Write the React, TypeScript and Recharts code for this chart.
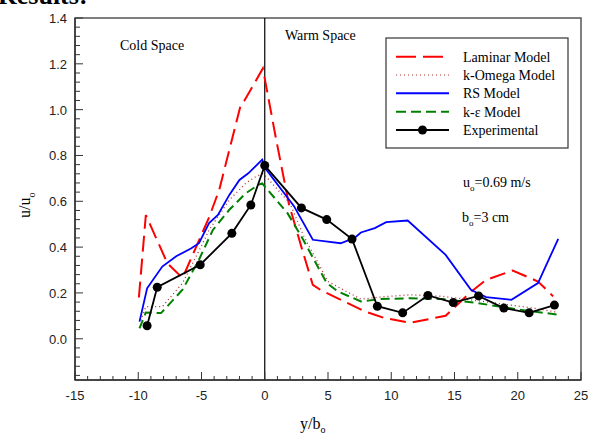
import { LineChart, Line, XAxis, YAxis, ReferenceLine, ReferenceArea } from "recharts";

const SERIF = "'Liberation Serif', 'Times New Roman', serif";
const SANS = "'Liberation Sans', Arial, sans-serif";

// u/u_o profiles vs y/b_o
const laminar = [
  { x: -9.95, y: 0.18 }, { x: -9.4, y: 0.54 }, { x: -7.7, y: 0.33 }, { x: -6.5, y: 0.265 },
  { x: -4.4, y: 0.53 }, { x: -3.6, y: 0.65 }, { x: -1.9, y: 1.02 }, { x: -1.6, y: 1.04 },
  { x: -0.15, y: 1.18 }, { x: 0.9, y: 0.87 }, { x: 1.9, y: 0.59 }, { x: 2.9, y: 0.4 },
  { x: 3.8, y: 0.235 }, { x: 4.5, y: 0.21 }, { x: 7.9, y: 0.12 }, { x: 9.5, y: 0.09 },
  { x: 11.5, y: 0.07 }, { x: 14.3, y: 0.1 }, { x: 16.2, y: 0.2 }, { x: 17.5, y: 0.257 },
  { x: 19.6, y: 0.298 }, { x: 21.6, y: 0.25 }, { x: 22.8, y: 0.185 },
];

const kOmega = [
  { x: -9.8, y: 0.08 }, { x: -9.4, y: 0.14 }, { x: -8.1, y: 0.14 }, { x: -6.5, y: 0.243 },
  { x: -4.9, y: 0.417 }, { x: -4.4, y: 0.475 }, { x: -2.8, y: 0.606 }, { x: -1.5, y: 0.679 },
  { x: -0.7, y: 0.708 }, { x: -0.15, y: 0.72 }, { x: 0.1, y: 0.708 }, { x: 2.0, y: 0.59 },
  { x: 3.1, y: 0.446 }, { x: 5.0, y: 0.25 }, { x: 6.2, y: 0.214 }, { x: 7.6, y: 0.173 },
  { x: 9.1, y: 0.182 }, { x: 11.5, y: 0.192 }, { x: 14.1, y: 0.185 }, { x: 16.7, y: 0.167 },
  { x: 19.3, y: 0.148 }, { x: 21.2, y: 0.134 }, { x: 23.2, y: 0.115 },
];

const rsModel = [
  { x: -9.9, y: 0.075 }, { x: -9.3, y: 0.22 }, { x: -8.1, y: 0.315 }, { x: -7.0, y: 0.36 },
  { x: -5.8, y: 0.395 }, { x: -5.2, y: 0.417 }, { x: -4.4, y: 0.505 }, { x: -3.7, y: 0.54 },
  { x: -2.8, y: 0.628 }, { x: -2.0, y: 0.693 }, { x: -1.3, y: 0.722 }, { x: -0.2, y: 0.782 },
  { x: 0.1, y: 0.74 }, { x: 2.3, y: 0.58 }, { x: 3.8, y: 0.432 }, { x: 6.0, y: 0.417 },
  { x: 7.1, y: 0.44 }, { x: 7.6, y: 0.464 }, { x: 8.7, y: 0.483 }, { x: 9.6, y: 0.509 },
  { x: 11.3, y: 0.516 }, { x: 14.3, y: 0.366 }, { x: 16.3, y: 0.214 }, { x: 16.8, y: 0.2 },
  { x: 17.5, y: 0.182 }, { x: 19.5, y: 0.17 }, { x: 21.6, y: 0.243 }, { x: 23.2, y: 0.436 },
];

const kEpsilon = [
  { x: -9.9, y: 0.045 }, { x: -9.4, y: 0.115 }, { x: -8.2, y: 0.112 }, { x: -6.5, y: 0.214 },
  { x: -5.2, y: 0.345 }, { x: -4.1, y: 0.475 }, { x: -2.8, y: 0.563 }, { x: -1.5, y: 0.635 },
  { x: -0.5, y: 0.672 }, { x: -0.2, y: 0.678 }, { x: 1.8, y: 0.548 }, { x: 2.9, y: 0.446 },
  { x: 4.9, y: 0.243 }, { x: 5.8, y: 0.206 }, { x: 7.6, y: 0.163 }, { x: 9.1, y: 0.173 },
  { x: 11.5, y: 0.177 }, { x: 14.1, y: 0.173 }, { x: 16.8, y: 0.156 }, { x: 19.3, y: 0.134 },
  { x: 21.2, y: 0.119 }, { x: 23.2, y: 0.105 },
];

const experimental = [
  { x: -9.3, y: 0.057 }, { x: -8.5, y: 0.225 }, { x: -5.1, y: 0.323 }, { x: -2.6, y: 0.46 },
  { x: -1.1, y: 0.584 }, { x: 0, y: 0.756 }, { x: 2.9, y: 0.571 }, { x: 4.9, y: 0.52 },
  { x: 6.9, y: 0.435 }, { x: 8.9, y: 0.142 }, { x: 10.9, y: 0.113 }, { x: 12.9, y: 0.189 },
  { x: 14.9, y: 0.158 }, { x: 16.9, y: 0.187 }, { x: 18.9, y: 0.134 }, { x: 20.9, y: 0.113 },
  { x: 22.9, y: 0.147 },
];

const xDomain = [-15, 25];
const yDomain = [-0.18, 1.4];
const xMajor = [-15, -10, -5, 0, 5, 10, 15, 20, 25];
const yMajor = [0, 0.2, 0.4, 0.6, 0.8, 1.0, 1.2, 1.4];
// minor ticks every 1 unit on x, every 0.04 on y
const xTicks = Array.from({ length: 41 }, (_, i) => -15 + i);
const yTicks = Array.from({ length: 40 }, (_, i) => Math.round((-0.16 + i * 0.04) * 100) / 100);

const AXIS = "#333";

function XTick({ x, y, payload }: any) {
  const major = xMajor.includes(payload.value);
  return (
    <g>
      <line x1={x} x2={x} y1={y} y2={y - (major ? 8 : 4)} stroke={AXIS} />
      {major && (
        <text x={x} y={y + 20} textAnchor="middle" fontFamily={SANS} fontSize={13} fill="#222">
          {payload.value}
        </text>
      )}
    </g>
  );
}

function YTick({ x, y, payload }: any) {
  const major = yMajor.some((m) => Math.abs(m - payload.value) < 1e-6);
  return (
    <g>
      <line x1={x} x2={x + (major ? 8 : 5)} y1={y} y2={y} stroke={AXIS} />
      {major && (
        <text x={x - 8} y={y + 5} textAnchor="end" fontFamily={SANS} fontSize={13} fill="#222">
          {payload.value.toFixed(1)}
        </text>
      )}
    </g>
  );
}

const legendRows = [
  { name: "Laminar Model", color: "#ff0000", dash: "20 7", width: 2, dot: false },
  { name: "k-Omega Model", color: "#b03030", dash: "1 3", width: 1.2, dot: false },
  { name: "RS Model", color: "#0000ff", dash: undefined, width: 2, dot: false },
  { name: "k-\u03b5 Model", color: "#008000", dash: "10 5", width: 2, dot: false },
  { name: "Experimental", color: "#000", dash: undefined, width: 2, dot: true },
];

function Overlay() {
  const rowY = [56.7, 75, 93.3, 111.7, 130];
  return (
    <svg width={596} height={436} style={{ position: "absolute", left: 0, top: 0, pointerEvents: "none" }}>
      <text x={-2} y={4} fontFamily={SERIF} fontWeight="bold" fontSize={26} fill="#000">Results:</text>
      <text x={120} y={50} fontFamily={SERIF} fontSize={14} fill="#000">Cold Space</text>
      <text x={285} y={40} fontFamily={SERIF} fontSize={14} fill="#000">Warm Space</text>

      <rect x={386} y={38} width={182} height={110} fill="#fff" stroke={AXIS} strokeWidth={1.2} />
      {legendRows.map((r, i) => (
        <g key={r.name}>
          <line x1={396} x2={449} y1={rowY[i]} y2={rowY[i]} stroke={r.color} strokeWidth={r.width} strokeDasharray={r.dash} />
          {r.dot && <circle cx={422.5} cy={rowY[i]} r={4.5} fill="#000" />}
          <text x={463} y={rowY[i] + 5} fontFamily={SERIF} fontSize={14} fill="#000">{r.name}</text>
        </g>
      ))}

      <text x={463} y={187} fontFamily={SERIF} fontSize={14} fill="#000">
        u<tspan fontSize={9} dy={4}>o</tspan><tspan dy={-4}>=0.69 m/s</tspan>
      </text>
      <text x={462} y={222} fontFamily={SERIF} fontSize={14} fill="#000">
        b<tspan fontSize={9} dy={4}>o</tspan><tspan dy={-4}>=3 cm</tspan>
      </text>

      <text x={300} y={429} fontFamily={SERIF} fontSize={16} fill="#000">
        y/b<tspan fontSize={10} dy={4}>o</tspan>
      </text>
      <text transform="translate(30,218) rotate(-90)" fontFamily={SERIF} fontSize={16} fill="#000">
        u/u<tspan fontSize={10} dy={5}>o</tspan>
      </text>
    </svg>
  );
}

export default function App() {
  return (
    <div style={{ position: "absolute", left: 0, top: 0, width: 596, height: 436, background: "#fff" }}>
      <LineChart width={596} height={436} margin={{ top: 18, right: 15, bottom: 16, left: 15 }}>
        <ReferenceArea x1={-15} x2={25} y1={-0.18} y2={1.4} fill="none" stroke="#555" strokeWidth={1.5} ifOverflow="visible" />
        <XAxis
          type="number"
          dataKey="x"
          domain={xDomain}
          ticks={xTicks}
          interval={0}
          tick={<XTick />}
          tickLine={false}
          tickSize={0}
          tickMargin={0}
          height={40}
          axisLine={{ stroke: AXIS, strokeWidth: 1.5 }}
          allowDataOverflow
        />
        <YAxis
          type="number"
          dataKey="y"
          domain={yDomain}
          ticks={yTicks}
          interval={0}
          tick={<YTick />}
          tickLine={false}
          tickSize={0}
          tickMargin={0}
          width={60}
          axisLine={{ stroke: AXIS, strokeWidth: 1.5 }}
          allowDataOverflow
        />
        <ReferenceLine x={0} stroke="#000" strokeWidth={1.2} />
        <Line data={laminar} dataKey="y" type="linear" stroke="#ff0000" strokeWidth={2} strokeDasharray="16 7" dot={false} isAnimationActive={false} />
        <Line data={kOmega} dataKey="y" type="linear" stroke="#b03030" strokeWidth={1.3} strokeDasharray="1 3" dot={false} isAnimationActive={false} />
        <Line data={rsModel} dataKey="y" type="linear" stroke="#0000ff" strokeWidth={1.8} dot={false} isAnimationActive={false} />
        <Line data={kEpsilon} dataKey="y" type="linear" stroke="#008000" strokeWidth={2} strokeDasharray="9 5" dot={false} isAnimationActive={false} />
        <Line
          data={experimental}
          dataKey="y"
          type="linear"
          stroke="#000"
          strokeWidth={1.8}
          dot={{ r: 4.5, fill: "#000", stroke: "#000", strokeWidth: 0 }}
          isAnimationActive={false}
        />
      </LineChart>
      <Overlay />
    </div>
  );
}
